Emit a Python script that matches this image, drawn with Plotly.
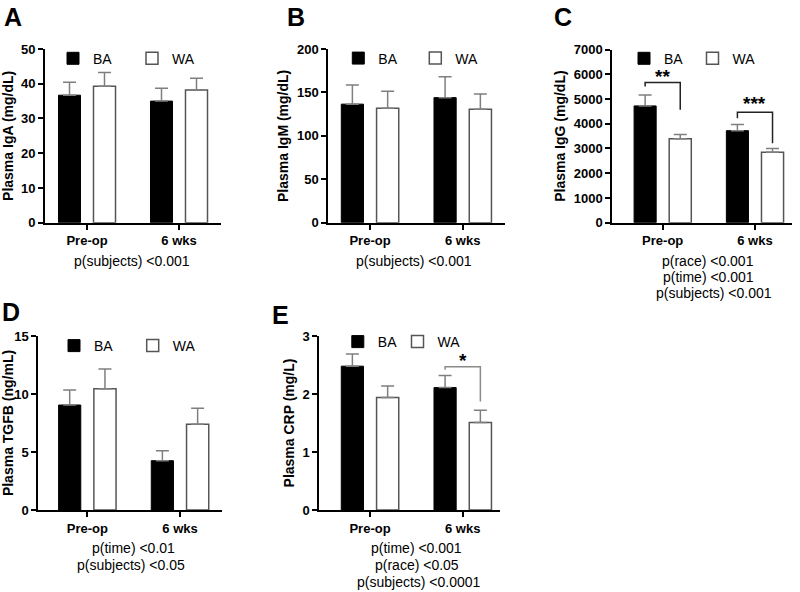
import plotly.graph_objects as go

# ---------------- data ----------------
categories = ["Pre-op", "6 wks"]
groups = ["BA", "WA"]

A_BA = [36.7, 35.0];   A_BA_err = [3.7, 3.7]
A_WA = [39.3, 38.2];   A_WA_err = [3.9, 3.4]
B_BA = [136.5, 144.0]; B_BA_err = [22.0, 24.0]
B_WA = [131.7, 130.6]; B_WA_err = [19.6, 17.6]
C_BA = [4720, 3720];   C_BA_err = [445, 245]
C_WA = [3390, 2850];   C_WA_err = [175, 145]
D_BA = [9.05, 4.25];   D_BA_err = [1.30, 0.86]
D_WA = [10.46, 7.39];  D_WA_err = [1.70, 1.38]
E_BA = [2.48, 2.11];   E_BA_err = [0.21, 0.21]
E_WA = [1.94, 1.51];   E_WA_err = [0.20, 0.21]

y_titles = ["Plasma IgA (mg/dL)", "Plasma IgM (mg/dL)", "Plasma IgG (mg/dL)",
            "Plasma TGFB (ng/mL)", "Plasma CRP (mg/L)"]
y_ranges = [[0, 50], [0, 200], [0, 7000], [0, 15], [0, 3]]
y_dticks = [10, 50, 1000, 5, 1]
panel_letters = ["A", "B", "C", "D", "E"]

p_texts_A = ["p(subjects) <0.001"]
p_texts_B = ["p(subjects) <0.001"]
p_texts_C = ["p(race) <0.001", "p(time) <0.001", "p(subjects) <0.001"]
p_texts_D = ["p(time) <0.01", "p(subjects) <0.05"]
p_texts_E = ["p(time) <0.001", "p(race) <0.05", "p(subjects) <0.0001"]

# significance brackets: (panel, category index, left-leg bottom, top, right-leg bottom, label, label y)
brackets = [
    (2, 0, 5500, 5665, 4560, "**", 5900),
    (2, 1, 4224, 4466, 3213, "***", 4820),
    (4, 1, 2.42, 2.47, 1.87, "*", 2.58),
]
bracket_colors = {2: "#222222", 4: "#8a8a8a"}

# ---------------- layout geometry ----------------
W, H = 800, 592
FONT = "Liberation Sans, Arial, Helvetica, sans-serif"


def fx(px):
    return px / W


def fy(py):
    return (H - py) / H


panels = [
    dict(x=(45, 221), y=(49, 222.7), xr=(-0.4565, 1.4565)),
    dict(x=(328.3, 505), y=(49, 222.7), xr=(-0.45, 1.456)),
    dict(x=(612.3, 791.7), y=(49.5, 222.7), xr=(-0.546, 1.398)),
    dict(x=(38.3, 221.7), y=(336, 510), xr=(-0.529, 1.45)),
    dict(x=(319.3, 500), y=(336, 510), xr=(-0.547, 1.402)),
]
# legend symbol centres (px) for BA and WA, and legend row centre y
legend_sym_x = [(73, 152), (358.3, 435.3), (644, 712.5), (74, 152.7), (357.8, 417.5)]
legend_y = [58.7, 58.5, 58.7, 346, 342]
letter_pos = [(13, 17), (296, 17), (563, 17), (11, 312), (280, 315)]
ptext_pos = [
    [(132.3, 260.7)],
    [(414.2, 260.7)],
    [(708.3, 261), (708.8, 277.2), (714.3, 293.4)],
    [(133.2, 548.3), (130.5, 565)],
    [(416, 548.3), (416.7, 565), (419.2, 581.7)],
]
ptexts = [p_texts_A, p_texts_B, p_texts_C, p_texts_D, p_texts_E]

BARGAP = 0.239
BARGROUPGAP = 0.371
bar_offset = (1 - BARGAP) / 4.0

data = [
    (A_BA, A_BA_err, A_WA, A_WA_err),
    (B_BA, B_BA_err, B_WA, B_WA_err),
    (C_BA, C_BA_err, C_WA, C_WA_err),
    (D_BA, D_BA_err, D_WA, D_WA_err),
    (E_BA, E_BA_err, E_WA, E_WA_err),
]

fig = go.Figure()
layout = dict(
    width=W, height=H, margin=dict(l=0, r=0, t=0, b=0, autoexpand=False),
    paper_bgcolor="white", plot_bgcolor="white", showlegend=True,
    barmode="group", bargap=BARGAP, bargroupgap=BARGROUPGAP,
    font=dict(family=FONT, color="black"),
    annotations=[], shapes=[],
)

styles = [
    dict(marker=dict(color="black", line=dict(color="black", width=1))),
    dict(marker=dict(color="white", line=dict(color="#555555", width=1.5))),
]

legend_count = 0
for i, (ba, ba_e, wa, wa_e) in enumerate(data):
    n = i + 1
    sfx = "" if n == 1 else str(n)
    xa, ya = "x" + sfx, "y" + sfx
    p = panels[i]
    for g, (vals, errs) in enumerate([(ba, ba_e), (wa, wa_e)]):
        legend_count += 1
        lg = "legend" if legend_count == 1 else "legend" + str(legend_count)
        fig.add_trace(go.Bar(
            x=categories, y=vals, name=groups[g], xaxis=xa, yaxis=ya, legend=lg,
            showlegend=True, marker=styles[g]["marker"],
            error_y=dict(type="data", array=errs, arrayminus=[0] * len(errs), symmetric=False,
                         color="#7f7f7f", thickness=1.5, width=6.5),
        ))
        layout[lg] = dict(
            orientation="h", x=fx(legend_sym_x[i][g] - 20), y=fy(legend_y[i]),
            xanchor="left", yanchor="middle", xref="paper", yref="paper",
            font=dict(family=FONT, size=14, color="black"),
            bgcolor="rgba(0,0,0,0)", itemclick=False, itemdoubleclick=False,
        )
    layout["xaxis" + sfx] = dict(
        domain=[fx(p["x"][0]), fx(p["x"][1])], anchor=ya,
        range=list(p["xr"]), type="category",
        showline=True, linecolor="black", linewidth=2, showgrid=False, zeroline=False,
        ticks="outside", ticklen=5, tickwidth=1.5, tickcolor="black",
        tickfont=dict(family=FONT, size=13, color="black", weight="bold"),
        fixedrange=True, automargin=False,
    )
    layout["yaxis" + sfx] = dict(
        domain=[fy(p["y"][1]), fy(p["y"][0])], anchor=xa,
        range=y_ranges[i], dtick=y_dticks[i], tick0=0,
        showline=True, linecolor="black", linewidth=2, showgrid=False, zeroline=False,
        ticks="outside", ticklen=5, tickwidth=1.5, tickcolor="black",
        tickfont=dict(family=FONT, size=13, color="black", weight="bold"),
        title=dict(text=y_titles[i], font=dict(family=FONT, size=14, color="black", weight="bold"),
                   standoff=5),
        fixedrange=True, automargin=False,
    )
    px_, py_ = letter_pos[i]
    layout["annotations"].append(dict(
        text=panel_letters[i], x=fx(px_), y=fy(py_), xref="paper", yref="paper",
        showarrow=False, xanchor="center", yanchor="middle",
        font=dict(family=FONT, size=25, color="black", weight="bold"),
    ))
    for t, (tx, ty) in zip(ptexts[i], ptext_pos[i]):
        layout["annotations"].append(dict(
            text=t, x=fx(tx), y=fy(ty), xref="paper", yref="paper",
            showarrow=False, xanchor="center", yanchor="middle",
            font=dict(family=FONT, size=14, color="black"),
        ))

for (pi, ci, yl, yt, yr, lab, ly) in brackets:
    sfx = "" if pi == 0 else str(pi + 1)
    xl = ci - bar_offset
    xr = ci + bar_offset
    col = bracket_colors[pi]
    layout["shapes"].append(dict(
        type="path", xref="x" + sfx, yref="y" + sfx,
        path=f"M {xl} {yl} L {xl} {yt} L {xr} {yt} L {xr} {yr}",
        line=dict(color=col, width=1.5),
    ))
    layout["annotations"].append(dict(
        text=lab, x=ci, y=ly, xref="x" + sfx, yref="y" + sfx, showarrow=False,
        xanchor="center", yanchor="middle",
        font=dict(family=FONT, size=19, color="black", weight="bold"),
    ))

fig.update_layout(**layout)
# remove the default 8px page margin so the 800x592 figure fills the window exactly
fig.write_html("out.html", config={"displayModeBar": False},
               post_script="document.body.style.margin='0px';")
